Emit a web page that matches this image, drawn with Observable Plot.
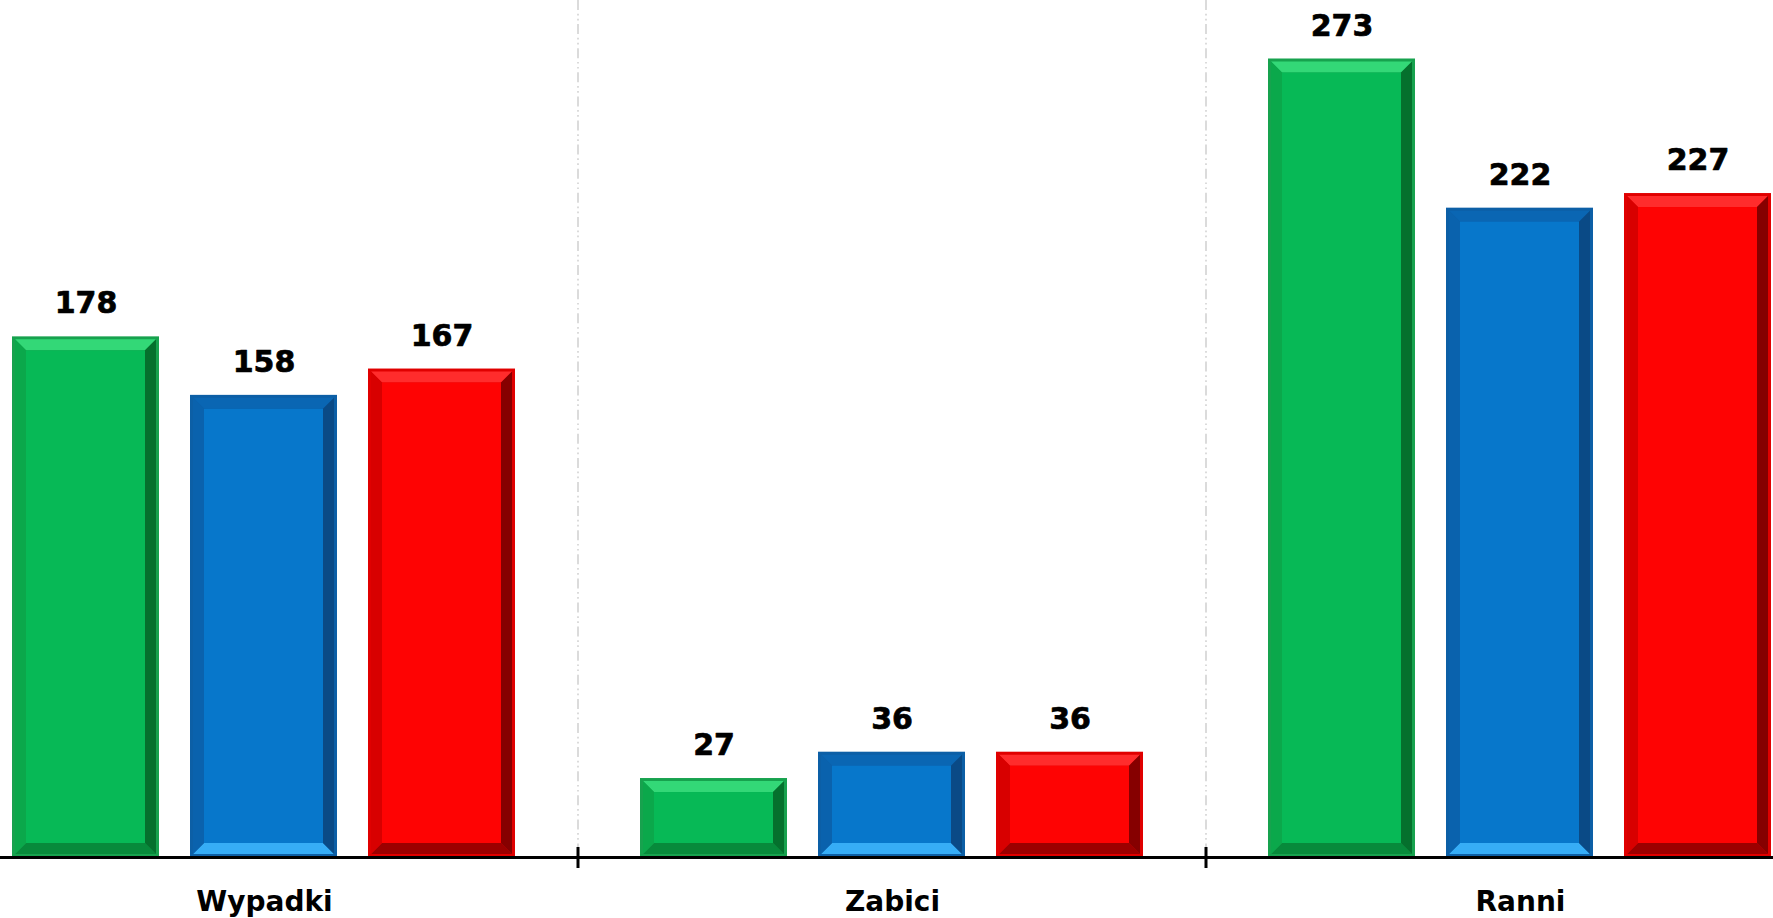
<!DOCTYPE html>
<html><head><meta charset="utf-8">
<script src="https://cdn.jsdelivr.net/npm/d3@7"></script>
<script src="https://cdn.jsdelivr.net/npm/@observablehq/plot@0.6"></script>
<style>html,body{margin:0;padding:0;background:#fff;overflow:hidden;} svg{display:block}</style>
</head><body><div id="chart"></div>
<script>
// ---- data ----
const categories = ["Wypadki", "Zabici", "Ranni"];
const series = ["Seria 1", "Seria 2", "Seria 3"];
const valuesSeria1 = [178, 27, 273];
const valuesSeria2 = [158, 36, 222];
const valuesSeria3 = [167, 36, 227];

// ---- styles ----
const palette = {
  "Seria 1": {frame: "#17a24e", inner: "#07b956", top: "#33d877", left: "#0ba84b", right: "#05702d", bottom: "#078a3b"},
  "Seria 2": {frame: "#0c5fa6", inner: "#0777cb", top: "#0a66b3", left: "#0a62ad", right: "#0a4a86", bottom: "#36adf6"},
  "Seria 3": {frame: "#e00000", inner: "#fe0303", top: "#ff2c2c", left: "#d80000", right: "#860000", bottom: "#9c0000"}
};

const seriesValues = [valuesSeria1, valuesSeria2, valuesSeria3];
const rows = [];
categories.forEach((c, ci) => series.forEach((s, si) => rows.push({category: c, series: s, value: seriesValues[si][ci]})));

const chart = Plot.plot({
  width: 1773,
  height: 918,
  marginTop: 0,
  marginBottom: 61,
  marginLeft: 0,
  marginRight: 0,
  style: {fontFamily: "'DejaVu Sans', sans-serif", background: "white", color: "black"},
  fx: {domain: categories, range: [-50, 1834], padding: 0, label: null},
  x: {domain: series, paddingInner: 0.173, paddingOuter: 0.341, axis: null},
  y: {domain: [0, 293], axis: null},
  color: {domain: series, range: series.map(s => palette[s].frame)},
  marks: [
    Plot.barY(rows, {fx: "category", x: "series", y: "value", fill: "series"}),
    Plot.ruleY([0], {stroke: "black", strokeWidth: 3}),
    Plot.text(rows, {fx: "category", x: "series", y: "value", text: d => String(d.value), dy: -33, fontSize: 30, fontWeight: "bold", fill: "black", stroke: "black", strokeWidth: 0.7}),
    Plot.axisFx({anchor: "bottom", tickSize: 0, tickPadding: 34, fontSize: 28, fontWeight: "bold", label: null, fill: "black", stroke: "black", strokeWidth: 0.6})
  ]
});
document.getElementById("chart").appendChild(chart);

// ---- decoration derived from the rendered marks and scales ----
const svg = chart.tagName.toLowerCase() === "svg" ? chart : chart.querySelector("svg");
const ns = "http://www.w3.org/2000/svg";
const frameToSeries = new Map(series.map(s => [palette[s].frame, s]));

// bevel effect on each bar drawn by Plot
svg.querySelectorAll('g[aria-label="bar"] rect').forEach(rect => {
  const p = palette[frameToSeries.get(rect.getAttribute("fill"))];
  if (!p) return;
  const rx = +rect.getAttribute("x"), ry = +rect.getAttribute("y");
  const rw = +rect.getAttribute("width"), rh = +rect.getAttribute("height");
  const o = 3, b = 11;
  const L = rx + o, R = rx + rw - o, T = ry + o, B = ry + rh - o;
  const parent = rect.parentNode;
  const poly = (pts, fill) => {
    const el = document.createElementNS(ns, "polygon");
    el.setAttribute("points", pts.map(q => q.join(",")).join(" "));
    el.setAttribute("fill", fill);
    parent.appendChild(el);
  };
  poly([[L, T], [R, T], [R - b, T + b], [L + b, T + b]], p.top);
  poly([[L, B], [R, B], [R - b, B - b], [L + b, B - b]], p.bottom);
  poly([[L, T], [L + b, T + b], [L + b, B - b], [L, B]], p.left);
  poly([[R, T], [R - b, T + b], [R - b, B - b], [R, B]], p.right);
  const inner = document.createElementNS(ns, "rect");
  inner.setAttribute("x", L + b); inner.setAttribute("y", T + b);
  inner.setAttribute("width", Math.max(0, R - L - 2 * b)); inner.setAttribute("height", Math.max(0, B - T - 2 * b));
  inner.setAttribute("fill", p.inner);
  parent.appendChild(inner);
});

// category separators (dashed) and boundary ticks on the axis
const fxs = chart.scale("fx");
const ys = chart.scale("y");
const axisY = ys.range[0];
const step = (fxs.range[1] - fxs.range[0]) / fxs.domain.length;
const sepG = document.createElementNS(ns, "g");
const tickG = document.createElementNS(ns, "g");
for (let i = 1; i < fxs.domain.length; i++) {
  const bx = fxs.range[0] + i * step;
  const dash = document.createElementNS(ns, "line");
  dash.setAttribute("x1", bx); dash.setAttribute("x2", bx);
  dash.setAttribute("y1", 0); dash.setAttribute("y2", axisY - 10);
  dash.setAttribute("stroke", "#c4c4c4"); dash.setAttribute("stroke-width", 1.2);
  dash.setAttribute("stroke-dasharray", "10,3.7,1.7,3.3,1.7,3.7");
  sepG.appendChild(dash);
  const tk = document.createElementNS(ns, "line");
  tk.setAttribute("x1", bx); tk.setAttribute("x2", bx);
  tk.setAttribute("y1", axisY - 10); tk.setAttribute("y2", axisY + 11);
  tk.setAttribute("stroke", "#000"); tk.setAttribute("stroke-width", 3);
  tickG.appendChild(tk);
}
const firstG = svg.querySelector("g");
svg.insertBefore(sepG, firstG);
svg.appendChild(tickG);
</script>
</body></html>
